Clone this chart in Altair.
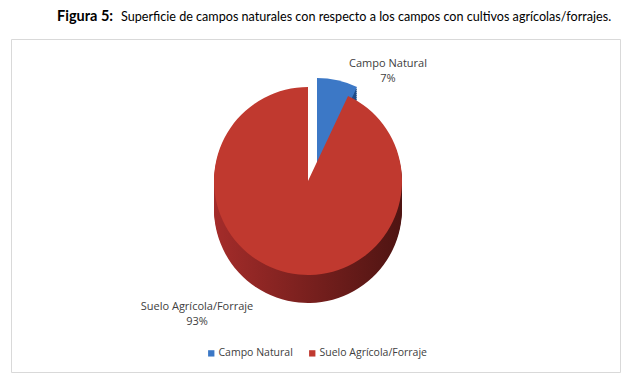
import math
import altair as alt
import pandas as pd

# ---- data ----
categories = ["Campo Natural", "Suelo Agrícola/Forraje"]
values = [7, 93]
pct_labels = ["7%", "93%"]
top_colors = ["#3c78c6", "#c0392f"]

df = pd.DataFrame({"category": categories, "value": values, "pct": pct_labels})
df["end"] = df["value"].cumsum()
df["start"] = df["end"] - df["value"]

W, H = 609, 333
CX, CY, R = 297, 142, 94
DEPTH = 28
EXPLODE = (9, -9)

base = alt.Chart(df)
theta_scale = alt.Scale(domain=[0, 100], range=[0, 2 * math.pi])


def grad(c1, c2):
    return alt.Gradient(
        gradient="linear",
        stops=[alt.GradientStop(color=c1, offset=0), alt.GradientStop(color=c2, offset=1)],
        x1=0, x2=1, y1=0, y2=0,
    )


side_fill = {
    "Campo Natural": grad("#2b5ea5", "#1d4a86"),
    "Suelo Agrícola/Forraje": grad("#a42c2a", "#4e1412"),
}

layers = []
# sides (depth) drawn as stacked arcs
for cat in categories:
    dx, dy = EXPLODE if cat == "Campo Natural" else (0, 0)
    for k in range(DEPTH, 0, -2):
        layers.append(
            base.transform_filter(alt.datum.category == cat)
            .mark_arc(radius=R, fill=side_fill[cat])
            .encode(
                theta=alt.Theta("start:Q", scale=theta_scale),
                theta2="end:Q",
                x=alt.value(CX + dx),
                y=alt.value(CY + dy + k),
            )
        )

# top faces
for cat in categories:
    dx, dy = EXPLODE if cat == "Campo Natural" else (0, 0)
    layers.append(
        base.transform_filter(alt.datum.category == cat)
        .mark_arc(radius=R)
        .encode(
            theta=alt.Theta("start:Q", scale=theta_scale),
            theta2="end:Q",
            x=alt.value(CX + dx),
            y=alt.value(CY + dy),
            color=alt.Color(
                "category:N",
                scale=alt.Scale(domain=categories, range=top_colors),
                legend=alt.Legend(
                    title=None,
                    orient="none",
                    legendX=195,
                    legendY=309,
                    direction="horizontal",
                    symbolType="square",
                    symbolSize=40,
                    symbolStrokeWidth=0,
                    labelFont="Open Sans",
                    labelFontSize=10.5,
                    labelColor="#404040",
                    columnPadding=14,
                    labelOffset=2,
                ),
            ),
        )
    )

# slice labels
label_pos = {"Campo Natural": (377, 25), "Suelo Agrícola/Forraje": (186, 268)}
for cat in categories:
    lx, ly = label_pos[cat]
    layers.append(
        base.transform_filter(alt.datum.category == cat)
        .transform_calculate(lbl=alt.datum.category + "\n" + alt.datum.pct)
        .mark_text(font="Open Sans", fontSize=11, color="#404040", lineBreak="\n",
                   align="center", baseline="middle", lineHeight=15)
        .encode(text="lbl:N", x=alt.value(lx), y=alt.value(ly))
    )

# title (bold prefix + regular text)
title_df = pd.DataFrame({"t": [0]})
layers.append(
    alt.Chart(title_df).mark_text(text="Figura 5:", font="Lato", fontWeight="bold",
                                  fontSize=14.5, align="left", baseline="middle", color="#000000")
    .encode(x=alt.value(46), y=alt.value(-22))
)
layers.append(
    alt.Chart(title_df).mark_text(text="Superficie de campos naturales con respecto a los campos con cultivos agrícolas/forrajes.",
                                  font="Lato", fontSize=12.6, align="left", baseline="middle", color="#000000")
    .encode(x=alt.value(110), y=alt.value(-22))
)

chart = (
    alt.layer(*layers)
    .properties(
        width=W,
        height=H,
        padding={"left": 3, "top": 31, "right": 3, "bottom": 5},
        autosize=alt.AutoSizeParams(type="none"),
        background="white",
    )
    .configure_view(stroke="#d9d9d9", strokeWidth=1)
)

chart.save("out.html", embed_options={"renderer": "svg", "actions": False})
